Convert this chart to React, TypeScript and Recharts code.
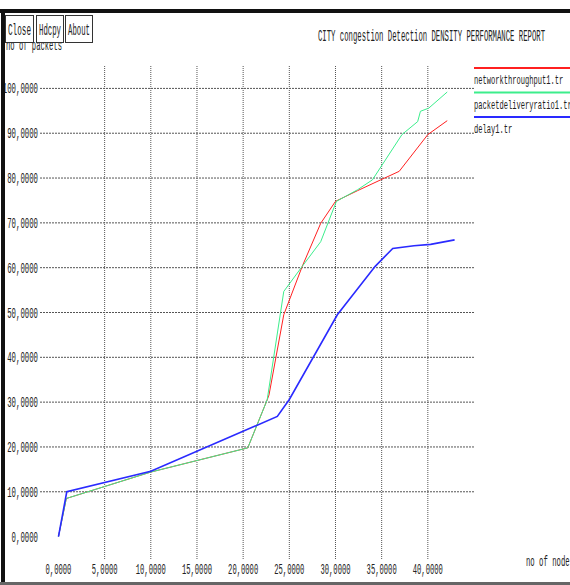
import React from 'react';
import { LineChart, Line, XAxis, YAxis, ReferenceLine, Legend } from 'recharts';

// values (x = no of nodes, y = no of packets)
const throughputX = [0, 0.85, 10, 20.5, 22.6, 22.8, 24.4, 26.4, 28.4, 30, 32.4, 34.9, 36.9, 40, 42.1];
const throughputY = [0, 8.5, 14.4, 19.8, 30.5, 31.6, 49.5, 60.3, 69.9, 74.8, 77.2, 79.6, 81.5, 89.7, 92.8];

const pdrX = [0, 0.85, 10, 20.5, 22.6, 24.4, 26.4, 28.4, 30.1, 32.4, 34, 37.2, 38.9, 39.2, 40.1, 42.1];
const pdrY = [0, 8.5, 14.4, 19.8, 30.5, 54.7, 60.3, 65.8, 74.8, 77.4, 79.6, 89.7, 92.6, 94.9, 95.6, 99.2];

const delayX = [0, 0.9, 10, 23.7, 25, 30.2, 34.3, 36.2, 38.5, 40.3, 42.9];
const delayY = [0, 10, 14.6, 26.8, 30.6, 49.5, 60.3, 64.3, 64.9, 65.2, 66.2];

const xTicks = [0, 5, 10, 15, 20, 25, 30, 35, 40];
const yTicks = [0, 10, 20, 30, 40, 50, 60, 70, 80, 90, 100];
const xGrid = [5, 10, 15, 20, 25, 30, 35, 40];
const yGrid = [10, 20, 30, 40, 50, 60, 70, 80, 90, 100];

const series = [
  { name: 'networkthroughput1.tr', xs: throughputX, ys: throughputY, color: '#ff2020', width: 1 },
  { name: 'packetdeliveryratio1.tr', xs: pdrX, ys: pdrY, color: '#3cee8c', width: 1 },
  { name: 'delay1.tr', xs: delayX, ys: delayY, color: '#2a2aff', width: 1.6 },
];

const FONT = '"Liberation Mono", "DejaVu Sans Mono", monospace';
const fmt = (v: number) => `${v},0000`;

function XTick(props: any) {
  const { x, payload } = props;
  const s = fmt(payload.value);
  return (
    <text x={x} y={574} textAnchor="middle" fontFamily={FONT} fontSize={15} fill="#222"
      textLength={s.length * 4.3} lengthAdjust="spacingAndGlyphs">{s}</text>
  );
}

function YTick(props: any) {
  const { y, payload } = props;
  const s = fmt(payload.value);
  return (
    <text x={38} y={y + 5} textAnchor="end" fontFamily={FONT} fontSize={15} fill="#222"
      textLength={s.length * 4.4} lengthAdjust="spacingAndGlyphs">{s}</text>
  );
}

function LegendBox(props: any) {
  const items = [...(props.payload || [])].sort(
    (a: any, b: any) => series.findIndex((s) => s.name === a.value) - series.findIndex((s) => s.name === b.value)
  );
  return (
    <svg width={96} height={80} style={{ display: 'block', overflow: 'hidden' }}>
      {items.map((it: any, i: number) => (
        <g key={it.value}>
          <line x1={0} x2={96} y1={6 + i * 24.5} y2={6 + i * 24.5} stroke={it.color} strokeWidth={2} />
          <text x={0} y={22 + i * 24.5} fontFamily={FONT} fontSize={13} fill="#222"
            textLength={it.value.length * 4.25} lengthAdjust="spacingAndGlyphs">{it.value}</text>
        </g>
      ))}
    </svg>
  );
}

function Btn({ x, w, label }: { x: number; w: number; label: string }) {
  return (
    <g>
      <rect x={x + 0.5} y={15.5} width={w} height={27} fill="#fff" stroke="#333" strokeWidth={1} />
      <text x={x + 3} y={35} fontFamily={FONT} fontSize={16} fill="#222"
        textLength={w - 5} lengthAdjust="spacingAndGlyphs">{label}</text>
    </g>
  );
}

export default function App() {
  return (
    <div style={{ position: 'absolute', left: 0, top: 0, width: 570, height: 585, background: '#fff', overflow: 'hidden' }}>
      <LineChart width={570} height={585} margin={{ top: 66, right: 96, bottom: 25, left: 39 }}>
        <XAxis type="number" dataKey="x" domain={[-2, 45]} ticks={xTicks} interval={0}
          height={1} axisLine={false} tickLine={false} tick={XTick} allowDataOverflow />
        <YAxis type="number" dataKey="y" domain={[-5, 105]} ticks={yTicks} interval={0}
          width={1} axisLine={false} tickLine={false} tick={YTick} allowDataOverflow />
        {xGrid.map((v) => (
          <ReferenceLine key={`gx${v}`} x={v} stroke="#555" strokeDasharray="1 1" />
        ))}
        {yGrid.map((v) => (
          <ReferenceLine key={`gy${v}`} y={v} stroke="#555" strokeDasharray="2 1" />
        ))}
        {series.map((s) => (
          <Line key={s.name} name={s.name} data={s.xs.map((x, i) => ({ x, y: s.ys[i] }))}
            dataKey="y" type="linear" stroke={s.color} strokeWidth={s.width} dot={false}
            isAnimationActive={false} />
        ))}
        <Legend layout="vertical" align="center" verticalAlign="middle" content={LegendBox}
          wrapperStyle={{ left: 474, top: 62, width: 96, height: 80 }} />
      </LineChart>
      <svg width={570} height={585} style={{ position: 'absolute', left: 0, top: 0, pointerEvents: 'none' }}>
        <text x={6} y={50} fontFamily={FONT} fontSize={15} fill="#222"
          textLength={56} lengthAdjust="spacingAndGlyphs">no of packets</text>
        <Btn x={5} w={28} label="Close" />
        <Btn x={36} w={27} label="Hdcpy" />
        <Btn x={65} w={27} label="About" />
        <text x={318} y={41} fontFamily={FONT} fontSize={16} fill="#222"
          textLength={227} lengthAdjust="spacingAndGlyphs">CITY congestion Detection DENSITY  PERFORMANCE REPORT</text>
        <text x={526} y={566} fontFamily={FONT} fontSize={15} fill="#222"
          textLength={48} lengthAdjust="spacingAndGlyphs">no of nodes</text>
        <rect x={0} y={0} width={570} height={9} fill="#fff" />
        <rect x={0} y={9} width={570} height={4} fill="#111" />
        <rect x={1} y={9} width={4} height={576} fill="#111" />
        <rect x={0} y={582} width={570} height={3} fill="#666" />
      </svg>
    </div>
  );
}
